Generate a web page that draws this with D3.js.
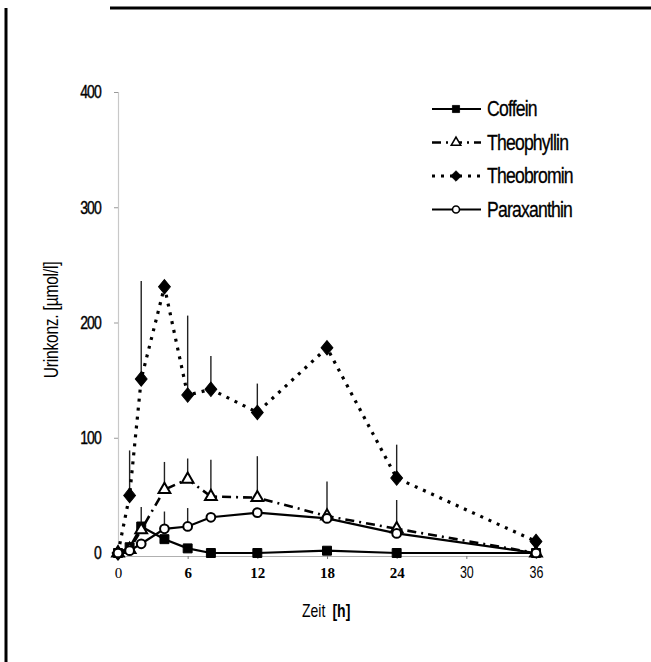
<!DOCTYPE html>
<html>
<head>
<meta charset="utf-8">
<script src="https://cdn.jsdelivr.net/npm/d3@7"></script>
<style>
  body { margin: 0; background: #fff; }
  svg { display: block; }
  .narrow { font-family: "Liberation Sans", Arial, sans-serif; }
</style>
</head>
<body>
<div id="chart"></div>
<script>
// Messzeitpunkte [h]
var times = [0, 1, 2, 4, 6, 8, 12, 18, 24, 36];
// Mittelwerte [µmol/l]
var coffein     = [0, 5, 23, 12, 4, 0, 0, 2, 0, 0];
var theophyllin = [0, 3, 20, 55, 64, 49, 48, 32, 21, 0];
var theobromin  = [0, 50, 151, 231, 137, 142, 122, 178, 65, 10];
var paraxanthin = [0, 2, 8, 21, 23, 31, 35, 30, 17, 0];
// Standardabweichung (nur nach oben), null = kein Balken
var theophyllinSd = [null, null, 20, 24, 18, 32, 36, 30, 25, null];
var theobrominSd  = [null, 39, 85, null, 69, 29, 25, 6, 29, null];
var paraxanthinSd = [null, null, null, 15, 16, null, null, null, null, null];
var coffeinSd     = [null, null, null, null, null, null, null, null, null, null];

var xTicks = [0, 6, 12, 18, 24, 30, 36];
var yTicks = [0, 100, 200, 300, 400];
var legendNames = ["Coffein", "Theophyllin", "Theobromin", "Paraxanthin"];

var width = 651, height = 662;
var squeeze = 0.78; // schmale Schrift nachbilden
var svg = d3.select("#chart").append("svg").attr("width", width).attr("height", height);

var x = d3.scaleLinear().domain([0, 36]).range([118, 536]);
var y = d3.scaleLinear().domain([0, 400]).range([553, 92]);

// Rahmen (Scan-Kanten)
svg.append("line").attr("x1", 6).attr("y1", 8).attr("x2", 6).attr("y2", height)
   .attr("stroke", "#000").attr("stroke-width", 3);
svg.append("line").attr("x1", 110).attr("y1", 8).attr("x2", width).attr("y2", 8)
   .attr("stroke", "#000").attr("stroke-width", 3);

// Achsen
var yAxis = svg.append("g").attr("transform", "translate(" + x(0) + ",0)")
   .call(d3.axisLeft(y).tickValues(yTicks).tickSize(4).tickPadding(18));
yAxis.select(".domain").attr("stroke", "#c8c8c8").attr("stroke-width", 1.2);
yAxis.selectAll(".tick line").attr("stroke", "#999");
yAxis.selectAll(".tick text").attr("class", "narrow").attr("font-size", 18)
   .attr("letter-spacing", -1.2).attr("fill", "#000").attr("stroke", "#000").attr("stroke-width", 0.4)
   .attr("transform", "scale(" + squeeze + ",1)");

var xAxis = svg.append("g").attr("transform", "translate(0," + (y(0) + 3) + ")")
   .call(d3.axisBottom(x).tickValues(xTicks).tickSize(3).tickPadding(8));
xAxis.select(".domain").attr("stroke", "#b0b0b0").attr("stroke-width", 1.2);
xAxis.selectAll(".tick line").attr("stroke", "#777");
xAxis.selectAll(".tick text")
   .attr("font-family", function (d) { return d < 30 ? "Liberation Serif, serif" : "Liberation Sans, sans-serif"; })
   .attr("font-weight", function (d) { return d < 30 && d > 0 ? "bold" : "normal"; })
   .attr("font-size", function (d) { return d < 30 ? 15 : 16; })
   .attr("transform", function (d) { return d < 30 ? null : "scale(" + squeeze + ",1)"; })
   .attr("fill", "#000");

// Achsentitel
svg.append("text").attr("class", "narrow")
   .attr("transform", "translate(58,320) rotate(-90) scale(" + squeeze + ",1)")
   .attr("text-anchor", "middle").attr("font-size", 20).attr("letter-spacing", -0.3)
   .text("Urinkonz. [µmol/l]");
var xt = svg.append("text").attr("class", "narrow").attr("transform", "translate(302,617) scale(" + squeeze + ",1)")
   .attr("font-size", 18);
xt.append("tspan").text("Zeit ");
xt.append("tspan").attr("dx", 4).attr("font-weight", "bold").text("[h]");

var series = [
  { name: legendNames[0], values: coffein, sd: coffeinSd, dash: null, width: 2.2, marker: "square" },
  { name: legendNames[1], values: theophyllin, sd: theophyllinSd, dash: "9,5,2,5", width: 2.6, marker: "triangle" },
  { name: legendNames[2], values: theobromin, sd: theobrominSd, dash: "3,6", width: 3.2, marker: "diamond" },
  { name: legendNames[3], values: paraxanthin, sd: paraxanthinSd, dash: null, width: 2.2, marker: "circle" }
];

var symbols = {
  square: d3.symbol().type(d3.symbolSquare).size(80),
  triangle: d3.symbol().type(d3.symbolTriangle).size(60),
  diamond: d3.symbol().type(d3.symbolDiamond2).size(110),
  circle: d3.symbol().type(d3.symbolCircle).size(60)
};
var filled = { square: true, triangle: false, diamond: true, circle: false };

var line = d3.line().x(function (d) { return x(d.t); }).y(function (d) { return y(d.v); });

series.forEach(function (s) {
  var pts = times.map(function (t, i) { return { t: t, v: s.values[i], sd: s.sd[i] }; });

  // Fehlerbalken
  svg.append("g").selectAll("line").data(pts.filter(function (d) { return d.sd != null; }))
    .enter().append("line")
    .attr("x1", function (d) { return x(d.t); }).attr("x2", function (d) { return x(d.t); })
    .attr("y1", function (d) { return y(d.v); }).attr("y2", function (d) { return y(d.v + d.sd); })
    .attr("stroke", "#222").attr("stroke-width", 1.4);

  svg.append("path").datum(pts).attr("d", line)
    .attr("fill", "none").attr("stroke", "#000").attr("stroke-width", s.width)
    .attr("stroke-dasharray", s.dash);

  svg.append("g").selectAll("path").data(pts).enter().append("path")
    .attr("transform", function (d) { return "translate(" + x(d.t) + "," + y(d.v) + ")" + (s.marker === "diamond" ? " scale(0.9,1.1)" : ""); })
    .attr("d", symbols[s.marker])
    .attr("fill", filled[s.marker] ? "#000" : "#fff")
    .attr("stroke", "#000").attr("stroke-width", filled[s.marker] ? 1 : 2);
});

// Legende
var lg = svg.append("g").attr("transform", "translate(432,109)");
var rows = lg.selectAll("g").data(series).enter().append("g")
   .attr("transform", function (d, i) { return "translate(0," + (i * 33.5) + ")"; });
rows.append("line").attr("x1", 0).attr("x2", 49).attr("y1", 0).attr("y2", 0)
   .attr("stroke", "#000").attr("stroke-width", function (d) { return d.width; })
   .attr("stroke-dasharray", function (d) { return d.dash; });
rows.append("path").attr("transform", "translate(24,0) scale(0.8)")
   .attr("d", function (d) { return symbols[d.marker](); })
   .attr("fill", function (d) { return filled[d.marker] ? "#000" : "#fff"; })
   .attr("stroke", "#000").attr("stroke-width", function (d) { return filled[d.marker] ? 1 : 2; });
rows.append("text").attr("class", "narrow")
   .attr("transform", "translate(55,7) scale(0.8,1)")
   .attr("font-size", 22).attr("letter-spacing", -1)
   .attr("stroke", "#000").attr("stroke-width", 0.3)
   .text(function (d) { return d.name; });
</script>
</body>
</html>
